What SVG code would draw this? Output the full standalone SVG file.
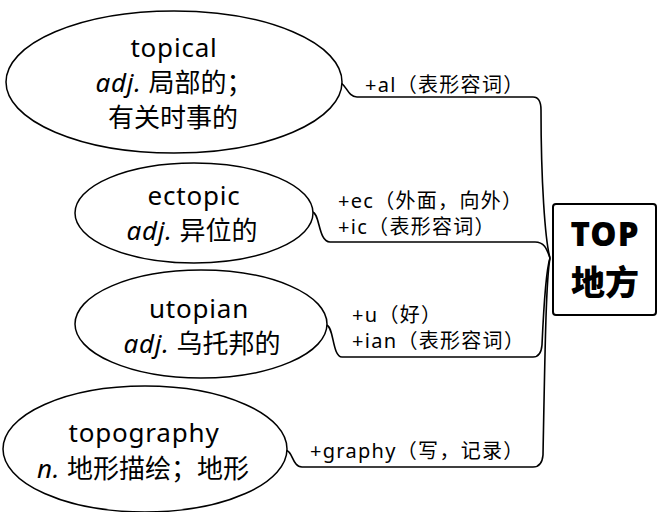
<svg xmlns="http://www.w3.org/2000/svg" width="657" height="512" viewBox="0 0 657 512">
<style>
.bg{fill:#fff}
.node ellipse{fill:#fff;stroke:#000;stroke-width:1.5}
.t{font-family:"Noto Sans","Noto Sans CJK SC",sans-serif;font-size:26px;fill:#000;text-anchor:middle}
.en{letter-spacing:0.8px}
.it{font-style:italic}
.lbl{font-family:"Noto Sans","Noto Sans CJK SC",sans-serif;font-size:20px;letter-spacing:1.3px;fill:#000}
.conn path{fill:none;stroke:#000;stroke-width:1.6}
.box{fill:#fff;stroke:#000;stroke-width:2}
.bt{font-family:"Noto Sans","Noto Sans CJK SC",sans-serif;font-weight:900;fill:#000;text-anchor:middle}
</style>
<rect class="bg" x="0" y="0" width="657" height="512"/>
<g id="connectors" class="conn">
<path d="M 338 82 C 346 82 347 97 357 97 L 533 97 Q 541 97 541 110 C 541 180 545 240 550 258"/>
<path d="M 312 212 C 320 212 318 242 330 242 L 535 242 C 545 242 547 250 550 258"/>
<path d="M 326 325 C 334 325 332 357 342 357 L 533 357 Q 541 357 542 345 C 544 300 546 270 550 258"/>
<path d="M 285 450 C 293 450 292 467 302 467 L 533 467 Q 542 467 543 455 C 545 350 546 280 550 258"/>
</g>
<g id="labels">
<text class="lbl" x="365" y="92">+al（表形容词）</text>
<text class="lbl" x="338" y="208">+ec（外面，向外）</text>
<text class="lbl" x="338" y="234">+ic（表形容词）</text>
<text class="lbl" x="352" y="322">+u（好）</text>
<text class="lbl" x="352" y="348">+ian（表形容词）</text>
<text class="lbl" x="310" y="458">+graphy（写，记录）</text>
</g>
<g id="node-topical" class="node">
<ellipse cx="174" cy="82" rx="168" ry="71"/>
<text class="t en" x="174" y="57">topical</text>
<text class="t" x="174" y="92"><tspan class="it en">adj.</tspan> 局部的；</text>
<text class="t" x="173" y="127">有关时事的</text>
</g>
<g id="node-ectopic" class="node">
<ellipse cx="194" cy="213" rx="119" ry="50"/>
<text class="t en" x="194" y="205">ectopic</text>
<text class="t" x="192" y="240"><tspan class="it en">adj.</tspan> 异位的</text>
</g>
<g id="node-utopian" class="node">
<ellipse cx="201" cy="324" rx="126" ry="54"/>
<text class="t en" x="199" y="318">utopian</text>
<text class="t" x="202" y="353"><tspan class="it en">adj.</tspan> 乌托邦的</text>
</g>
<g id="node-topography" class="node">
<ellipse cx="145" cy="449" rx="142" ry="63"/>
<text class="t en" x="144" y="442">topography</text>
<text class="t" x="143" y="478"><tspan class="it en">n.</tspan> 地形描绘；地形</text>
</g>
<g id="node-top" class="node">
<rect class="box" x="553" y="204" width="103" height="111" rx="3"/>
<text class="bt" x="605" y="246" font-size="33" letter-spacing="1">TOP</text>
<text class="bt" x="605" y="295" font-size="34">地方</text>
</g>
</svg>
